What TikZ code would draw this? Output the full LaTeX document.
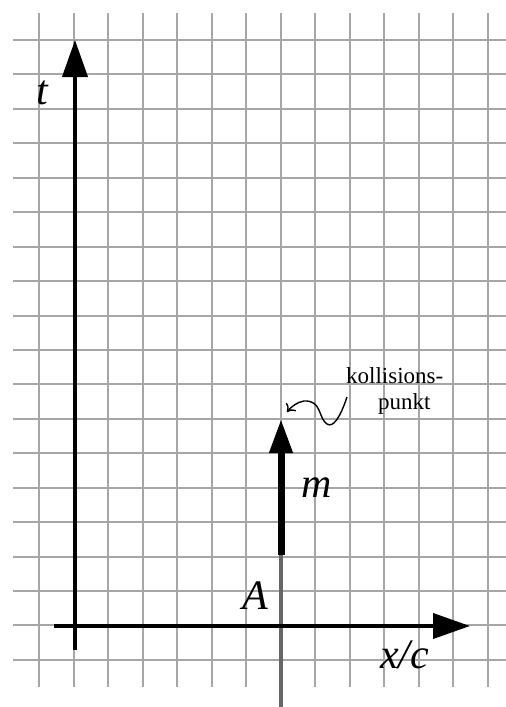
\documentclass[tikz,border=0pt]{standalone}
\usepackage{fontspec}
\setmainfont{Liberation Serif}
\usetikzlibrary{arrows.meta}
\tikzset{
  gridline/.style={line width=2pt, draw=black!35},
  axisline/.style={line width=4pt, draw=black, -{Triangle[length=37pt,width=25pt]}},
  mline/.style={line width=7pt, draw=black, -{Triangle[length=34pt,width=22pt]}},
  wline/.style={line width=3.5pt, draw=black!60},
  biglabel/.style={font=\fontsize{42}{46}\selectfont\itshape, inner sep=0pt, anchor=base west},
  smalllabel/.style={font=\fontsize{23}{26}\selectfont, inner sep=0pt, anchor=base west},
  wavy/.style={line width=1.4pt, -{To[length=7pt,width=13pt]}}
}
\begin{document}
\begin{tikzpicture}[x=1pt,y=-1pt]
\useasboundingbox (0,0) rectangle (506,707);
% grid
\foreach \k in {0,...,18} {
  \draw[gridline] ({13},{40+34.44*\k}) -- ({506},{40+34.44*\k});
}
\foreach \k in {0,...,13} {
  \draw[gridline] ({39.3+34.5*\k},{13}) -- ({39.3+34.5*\k},{687});
}
% coordinates
\coordinate (tbot) at (75,650);
\coordinate (ttop) at (75,40);
\coordinate (xleft) at (54,626);
\coordinate (xright) at (470,626);
\coordinate (wbot) at (281,707);
\coordinate (mbot) at (281,555);
\coordinate (mtop) at (281,419);
\coordinate (ws) at (347,397);
\coordinate (we) at (287,412);
% particle worldline
\draw[wline] (wbot) -- (mbot);
\draw[mline] (mbot) -- (mtop);
% axes
\draw[axisline] (tbot) -- (ttop);
\draw[axisline] (xleft) -- (xright);
% labels
\node[biglabel] (tl) at (36,104) {t};
\node[biglabel] (xl) at (380,668) {x/c};
\node[biglabel] (al) at (242,609) {A};
\node[biglabel] (ml) at (301,497) {m};
\node[smalllabel] (k1) at (346,383) {kollisions-};
\node[smalllabel] (k2) at (378,409) {punkt};
% wavy pointer
\draw[wavy] (ws) .. controls (340,418) and (333,428) .. (327,424)
  .. controls (318,418) and (322,400) .. (304,401)
  .. controls (297,402) and (291,407) .. (we);
\end{tikzpicture}
\end{document}
